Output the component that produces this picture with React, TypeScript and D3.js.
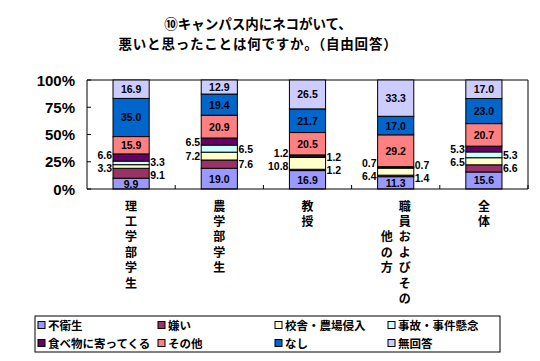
import React from 'react'
import * as d3 from 'd3'

const categories = ['理工学部学生', '農学部学生', '教授', '職員およびその他の方', '全体']
const seriesNames = ['不衛生', '嫌い', '校舎・農場侵入', '事故・事件懸念', '食べ物に寄ってくる', 'その他', 'なし', '無回答']

const fueisei = [9.9, 19.0, 16.9, 11.3, 15.6]
const kirai = [9.1, 7.6, 1.2, 1.4, 6.6]
const shinnyu = [3.3, 7.2, 10.8, 6.4, 6.5]
const jiko = [3.3, 6.5, 1.2, 0.7, 5.3]
const tabemono = [6.6, 6.5, 1.2, 0.7, 5.3]
const sonota = [15.9, 20.9, 20.5, 29.2, 20.7]
const nashi = [35.0, 19.4, 21.7, 17.0, 23.0]
const mukaitou = [16.9, 12.9, 26.5, 33.3, 17.0]

const seriesValues = [fueisei, kirai, shinnyu, jiko, tabemono, sonota, nashi, mukaitou]
const colors = ['#9999FF', '#993366', '#FFFFCC', '#CCFFFF', '#660066', '#FF8080', '#0066CC', '#CCCCFF']
// where the value label goes for each series
const labelSide = ['in', 'right', 'left', 'right', 'left', 'in', 'in', 'in']

const yTicks = [0, 25, 50, 75, 100]

const FONT = "'Noto Sans CJK JP', 'Noto Sans', sans-serif"
const NUM_FONT = "'Liberation Sans', Arial, sans-serif"

export default function App() {
  const width = 540
  const height = 361
  const plot = { left: 87, right: 528, top: 80, bottom: 189 }

  const rows = categories.map((c, i) => {
    const r: any = { cat: c }
    seriesNames.forEach((s, j) => { r[s] = seriesValues[j][i] })
    return r
  })
  const stacked = d3.stack<any>().keys(seriesNames)(rows)

  const x = d3.scaleBand().domain(categories).range([plot.left, plot.right])
  const y = d3.scaleLinear().domain([0, 100]).range([plot.bottom, plot.top])
  const barW = x.bandwidth() * 0.41

  // value labels, outside ones pushed apart so they don't collide
  const labels: any[] = []
  categories.forEach((c, ci) => {
    const cx = x(c)! + x.bandwidth() / 2
    const side: Record<string, any[]> = { left: [], right: [] }
    stacked.forEach((s, si) => {
      const d = s[ci]
      const mid = (y(d[0]) + y(d[1])) / 2
      const v = seriesValues[si][ci].toFixed(1)
      const mode = labelSide[si]
      const lab = { x: cx, y: mid, text: v, anchor: 'middle', key: c + si }
      if (mode === 'left') {
        lab.x = cx - barW / 2 - 1
        lab.anchor = 'end'
        side.left.push(lab)
      } else if (mode === 'right') {
        lab.x = cx + barW / 2 + 1
        lab.anchor = 'start'
        side.right.push(lab)
      }
      labels.push(lab)
    })
    Object.values(side).forEach(list => {
      list.sort((a, b) => a.y - b.y)
      for (let k = 1; k < list.length; k++) {
        const gap = list[k].y - list[k - 1].y
        const minSep = 13
        if (gap < minSep) {
          const push = (minSep - gap) / 2
          list[k - 1].y -= push
          list[k].y += push
        }
      }
    })
  })

  const legendCols = [38, 158, 275, 388]
  const legendRows = [325, 343]

  return (
    <svg width={width} height={height} style={{ display: 'block', marginTop: -8, marginLeft: -8 }}
      fontFamily={FONT} fontWeight="bold">
      <rect width={width} height={height} fill="#fff" />
      <text x={258} y={29} textAnchor="middle" fontSize={13.5}>⑩キャンパス内にネコがいて、</text>
      <text x={258} y={49} textAnchor="middle" fontSize={13.5} letterSpacing={0.8}>悪いと思ったことは何ですか。（自由回答）</text>

      {/* plot frame */}
      <line x1={plot.left} x2={plot.right} y1={plot.top} y2={plot.top} stroke="#000" strokeWidth={1} />
      <line x1={plot.right} x2={plot.right} y1={plot.top} y2={plot.bottom} stroke="#000" strokeWidth={1} />

      {stacked.map((s, si) => (
        <g key={s.key}>
          {s.map((d, ci) => (
            <rect key={ci}
              x={x(categories[ci])! + x.bandwidth() / 2 - barW / 2}
              y={y(d[1])}
              width={barW}
              height={y(d[0]) - y(d[1])}
              fill={colors[si]} stroke="#000" strokeWidth={1} />
          ))}
        </g>
      ))}

      {labels.map(l => (
        <text key={l.key} x={l.x} y={l.y} textAnchor={l.anchor} dominantBaseline="central"
          fontFamily={NUM_FONT} fontSize={10.5} fill="#000">{l.text}</text>
      ))}

      {/* axes */}
      <line x1={plot.left} x2={plot.left} y1={plot.top} y2={plot.bottom} stroke="#000" />
      <line x1={plot.left} x2={plot.right} y1={plot.bottom} y2={plot.bottom} stroke="#000" />
      {yTicks.map(t => (
        <g key={t}>
          <line x1={plot.left} x2={plot.left + 4} y1={y(t)} y2={y(t)} stroke="#000" />
          <text x={75} y={y(t)} textAnchor="end" dominantBaseline="central"
            fontFamily={NUM_FONT} fontSize={15}>{t}%</text>
        </g>
      ))}
      {categories.map((c, i) => (
        <line key={c} x1={plot.left + x.step() * (i + 1)} x2={plot.left + x.step() * (i + 1)}
          y1={plot.bottom} y2={plot.bottom - 4} stroke="#000" />
      ))}

      {/* vertical category labels */}
      {categories.map(c => {
        const cols: string[] = []
        for (let k = 0; k < c.length; k += 7) cols.push(c.slice(k, k + 7))
        const cx = x(c)! + x.bandwidth() / 2
        const maxLen = d3.max(cols, s => s.length)!
        return (
          <g key={c}>
            {cols.map((col, k) => {
              const colX = cx + ((cols.length - 1) / 2 - k) * 18
              const offset = (maxLen - col.length) / 2
              return Array.from(col).map((ch, j) => (
                <text key={k + '-' + j} x={colX} y={205 + (j + offset) * 15.4}
                  textAnchor="middle" dominantBaseline="central" fontSize={12}>{ch}</text>
              ))
            })}
          </g>
        )
      })}

      {/* legend */}
      <rect x={35} y={316} width={465} height={36} fill="#fff" stroke="#000" />
      {seriesNames.map((s, i) => {
        const lx = legendCols[i % 4]
        const ly = legendRows[Math.floor(i / 4)]
        return (
          <g key={s}>
            <rect x={lx} y={ly - 3.5} width={7} height={7} fill={colors[i]} stroke="#000" />
            <text x={lx + 10} y={ly} dominantBaseline="central" fontSize={11.5}>{s}</text>
          </g>
        )
      })}
    </svg>
  )
}
